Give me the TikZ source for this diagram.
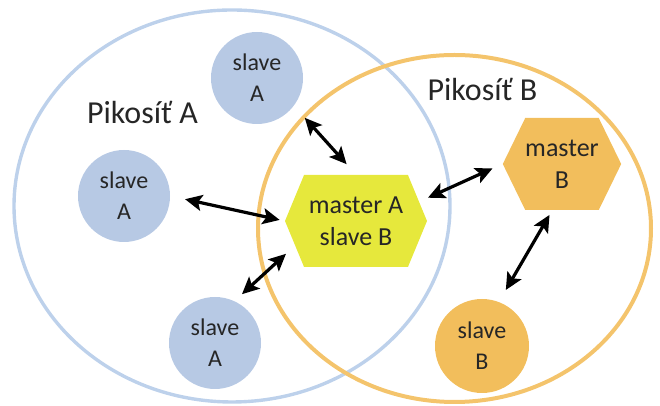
\documentclass[tikz,border=0pt]{standalone}
\usepackage{fontspec}
\setmainfont{Carlito}
\usetikzlibrary{arrows.meta,positioning,calc}
\usetikzlibrary{shapes.symbols}

\definecolor{slaveblue}{HTML}{B7C9E4}
\definecolor{netblue}{HTML}{BDD1EB}
\definecolor{slaveorange}{HTML}{F2BE5C}
\definecolor{netorange}{HTML}{F4C46C}
\definecolor{masteryellow}{HTML}{E6E83C}
\definecolor{textgray}{HTML}{262626}

\tikzset{
  slaveA/.style={circle,fill=slaveblue,minimum size=46pt,inner sep=0pt,align=center,
    text=textgray,font=\fontsize{12}{15.5}\selectfont},
  slaveB/.style={slaveA,fill=slaveorange,minimum size=47pt},
  master/.style={signal,signal to=east and west,inner sep=0pt,align=center,
    text=textgray,font=\fontsize{13}{16}\selectfont},
  netlabel/.style={text=textgray,font=\fontsize{16}{19}\selectfont},
  link/.style={{Stealth[length=8.5pt,width=8pt,inset=1.8pt]}-{Stealth[length=8.5pt,width=8pt,inset=1.8pt]},
    line width=1.6pt,shorten <=6pt,shorten >=6pt}
}

\begin{document}
\begin{tikzpicture}[x=0.5pt,y=0.5pt]
      \useasboundingbox (0,0) rectangle (660,406);

      % piconets
      \draw[netblue,line width=1.7pt] (232,200) ellipse [x radius=218,y radius=196];
      \draw[netorange,line width=2pt] (454.5,177.5) ellipse [x radius=196.5,y radius=173.5];

      \node[netlabel] (pa) at (142.5,294) {Pikosíť A};
      \node[netlabel] (pb) at (482.5,317) {Pikosíť B};

      % masters
      \node[master,fill=masteryellow,minimum width=71pt,minimum height=46pt,signal pointer angle=135] (mab) at (356,185) {master A\\slave B};
      \node[master,fill=slaveorange,minimum width=47.5pt,minimum height=46pt,signal pointer angle=128] (mb) at (562,242) {master\\B};

      % slaves
      \node[slaveA] (sa1) at (257,328) {slave\\A};
      \node[slaveA] (sa2) at (124,210) {slave\\A};
      \node[slaveA] (sa3) at (215,63) {slave\\A};
      \node[slaveB] (sb) at (482,60) {slave\\B};

      \draw[link,shorten <=8pt,shorten >=7pt] (sa1.-37) -- (mab.north);
      \draw[link,shorten <=7.5pt,shorten >=2.5pt] (sa2.east) -- (mab.west);
      \draw[link,shorten <=5pt] (sa3.65) -- (mab.202);
      \draw[link,shorten <=5.4pt,shorten >=4.7pt] (mb.west) -- (mab.17);
      \draw[link,shorten <=2.6pt,shorten >=6.8pt] (mb.258) -- (sb.69);

\end{tikzpicture}
\end{document}
